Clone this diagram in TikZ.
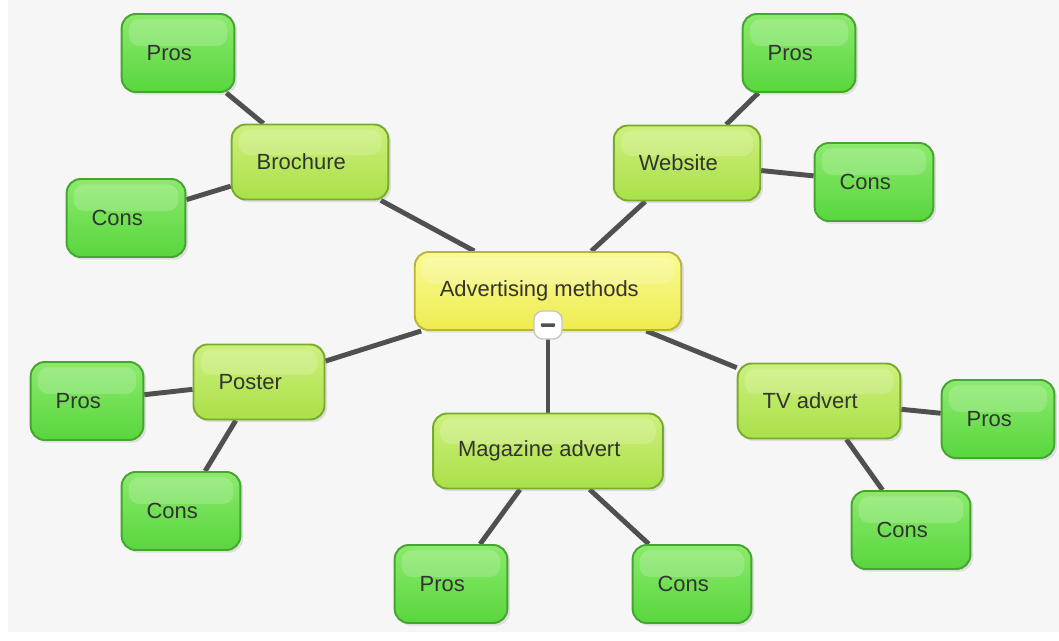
\documentclass[tikz,border=0pt]{standalone}
\usepackage{fontspec}
\setmainfont{Liberation Sans}
\usetikzlibrary{shadows,backgrounds}

\definecolor{leaftop}{RGB}{140,234,108}
\definecolor{leafbot}{RGB}{88,214,62}
\definecolor{leafline}{RGB}{70,165,48}
\definecolor{branchtop}{RGB}{205,240,125}
\definecolor{branchbot}{RGB}{170,224,72}
\definecolor{branchline}{RGB}{120,170,45}
\definecolor{roottop}{RGB}{250,250,150}
\definecolor{rootbot}{RGB}{238,236,80}
\definecolor{rootline}{RGB}{185,180,60}
\definecolor{linkgray}{RGB}{80,80,80}

\begin{document}
\begin{tikzpicture}[x=0.02cm, y=-0.02cm,
  box/.style={rounded corners=8pt, draw, line width=1.1pt, inner xsep=0pt, inner ysep=0pt,
    font=\fontsize{12.5}{15}\selectfont, text=black!80,
    execute at begin node=\hspace*{0.5cm}, execute at end node=\hspace*{0.85cm},
    drop shadow={opacity=0.2, shadow xshift=1.5pt, shadow yshift=-1.5pt},
    path picture={\fill[white, opacity=0.18, rounded corners=6pt]
      ([xshift=4pt, yshift=-3pt]path picture bounding box.north west) rectangle
      ([xshift=-4pt, yshift=4pt]path picture bounding box.east);}},
  leaf/.style={box, draw=leafline, top color=leaftop, bottom color=leafbot, minimum height=1.56cm},
  branch/.style={box, draw=branchline, top color=branchtop, bottom color=branchbot, minimum height=1.5cm},
  root/.style={box, draw=rootline, top color=roottop, bottom color=rootbot, minimum height=1.56cm},
  link/.style={line width=2.8pt, draw=linkgray}]

  \useasboundingbox (0,0) rectangle (1059,640);

  \node[root] (A) at (548,291) {Advertising methods};

  \node[branch] (B) at (310,162) {Brochure};
  \node[leaf] (B1) at (178,53) {Pros};
  \node[leaf] (B2) at (126,218) {Cons};

  \node[branch] (C) at (687,163) {Website};
  \node[leaf] (C1) at (799,53) {Pros};
  \node[leaf] (C2) at (874,182) {Cons};

  \node[branch] (D) at (259,382) {Poster};
  \node[leaf] (D1) at (87,401) {Pros};
  \node[leaf] (D2) at (181,511) {Cons};

  \node[branch] (E) at (548,451) {Magazine advert};
  \node[leaf] (E1) at (451,584) {Pros};
  \node[leaf] (E2) at (692,584) {Cons};

  \node[branch] (F) at (819,401) {TV advert};
  \node[leaf] (F1) at (998,419) {Pros};
  \node[leaf] (F2) at (911,530) {Cons};

  % collapse button
  \node[draw=gray!45, fill=white, line width=0.8pt, rounded corners=5pt, minimum size=0.56cm,
    inner sep=0pt,
    path picture={\fill[linkgray, rounded corners=0.5pt]
      ([xshift=-4pt, yshift=-1pt]path picture bounding box.center) rectangle
      ([xshift=4pt, yshift=1pt]path picture bounding box.center);}] (M) at (548,325) {};

  \begin{scope}[on background layer]
    \fill[gray!7] (8,0) rectangle (1059,632);
    \draw[link] (A) -- (B);
    \draw[link] (A) -- (C);
    \draw[link] (A) -- (D);
    \draw[link] (A) -- (E);
    \draw[link] (A) -- (F);
    \draw[link] (B) -- (B1);
    \draw[link] (B) -- (B2);
    \draw[link] (C) -- (C1);
    \draw[link] (C) -- (C2);
    \draw[link] (D) -- (D1);
    \draw[link] (D) -- (D2);
    \draw[link] (E) -- (E1);
    \draw[link] (E) -- (E2);
    \draw[link] (F) -- (F1);
    \draw[link] (F) -- (F2);
  \end{scope}
\end{tikzpicture}
\end{document}
